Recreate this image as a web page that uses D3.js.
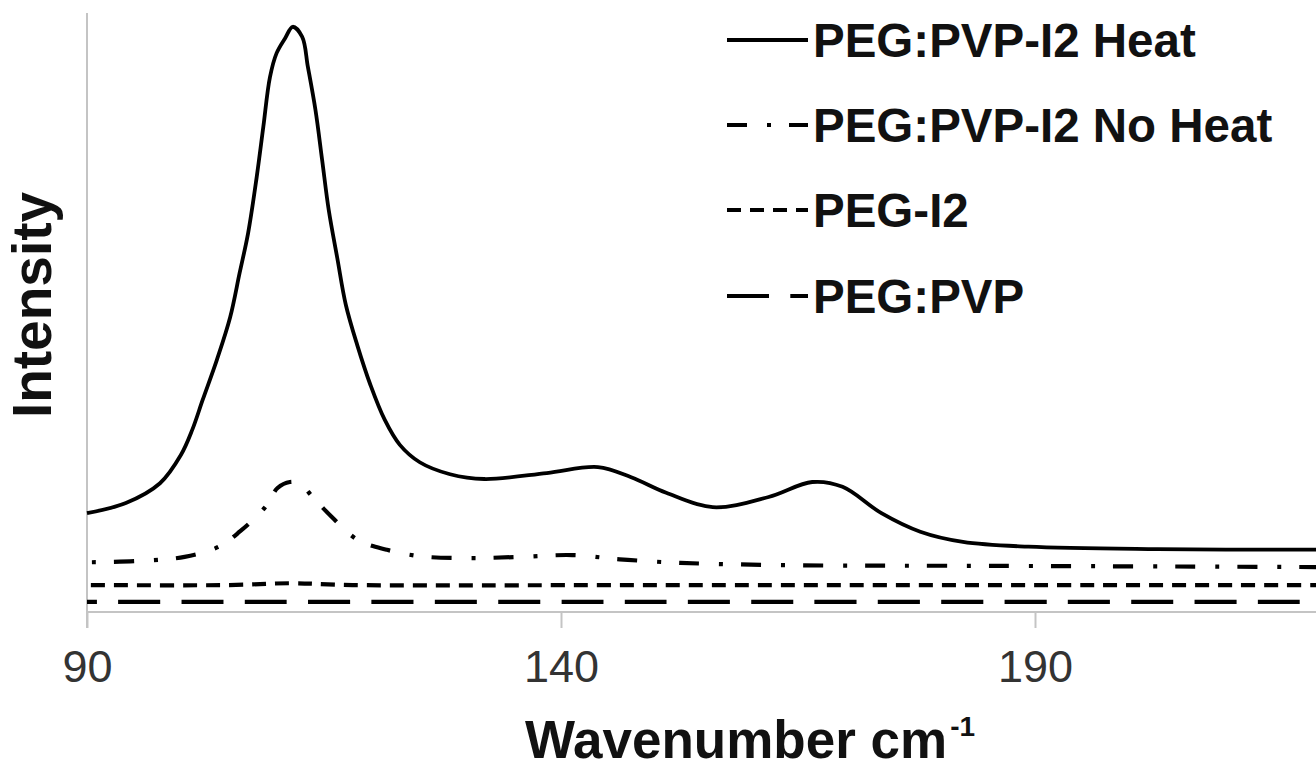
<!DOCTYPE html>
<html>
<head>
<meta charset="utf-8">
<script src="https://cdn.jsdelivr.net/npm/d3@7"></script>
<style>
  html, body { margin: 0; padding: 0; background: #fff; }
  svg { display: block; font-family: "Liberation Sans", Arial, Helvetica, sans-serif; }
</style>
</head>
<body>
<svg id="chart" width="1316" height="771"></svg>
<script>
// ---------- Data ----------
const heatX = [90, 94.1, 97.7, 99.9, 101.1, 102.2, 103.7, 105.1, 106.1, 107.0, 107.9, 108.6, 109.3, 110.0, 110.9, 111.7, 112.7, 113.3, 114.1, 114.8, 115.5, 116.4, 117.3, 118.5, 119.9, 121.4, 123.0, 125.1, 128.3, 131.9, 138.5, 143.9, 147.4, 151.1, 156.0, 161.9, 166.5, 169.7, 173.8, 177.9, 182.4, 189.3, 202.9, 220];
const heatY = [16.5, 18.2, 21.5, 26.2, 30.4, 35.4, 42.1, 49.2, 56.6, 63.3, 72.6, 81.0, 89.3, 93.3, 95.8, 97.7, 96.0, 91.0, 83.8, 75.5, 67.1, 59.1, 51.3, 44.6, 37.9, 32.1, 27.9, 25.0, 23.0, 22.2, 23.2, 24.2, 22.5, 19.9, 17.5, 19.2, 21.7, 20.9, 16.5, 13.4, 11.7, 10.9, 10.5, 10.4];

const noHeatX = [90, 95.2, 100.3, 103.9, 106.1, 108.8, 110.1, 111.4, 112.5, 113.8, 115.8, 118.6, 121.6, 125.2, 130.4, 135.7, 141.2, 146.2, 152.6, 165.2, 186.3, 220];
const noHeatY = [8.3, 8.5, 9.2, 10.9, 13.4, 17.5, 20.7, 21.7, 21.4, 19.2, 15.9, 12.0, 10.4, 9.3, 9.0, 9.2, 9.5, 8.8, 8.2, 7.8, 7.7, 7.5];

const pegI2X = [90, 105, 111.5, 118, 150, 220];
const pegI2Y = [4.5, 4.5, 4.8, 4.5, 4.5, 4.5];

const pegPvpX = [90, 150, 220];
const pegPvpY = [1.7, 1.7, 1.7];

const seriesNames = ["PEG:PVP-I2 Heat", "PEG:PVP-I2 No Heat", "PEG-I2", "PEG:PVP"];
const xTicks = [90, 140, 190];
const xTitle = "Wavenumber cm";
const xTitleSup = "-1";
const yTitle = "Intensity";

// ---------- Styles ----------
const styles = [
  { width: 3.8, dash: null, offset: 0 },
  { width: 4.2, dash: "20,20,4,18", offset: 35 },
  { width: 4.2, dash: "14,9", offset: 19 },
  { width: 4.2, dash: "42,21.3", offset: 32 }
];

const svg = d3.select("#chart");
const x = d3.scaleLinear().domain([90, 220]).range([87, 87 + 130 * 9.48]);
const y = d3.scaleLinear().domain([0, 100]).range([612, 13]);

// axes
const axisColor = "#c4c4c4";
svg.append("line").attr("x1", x(90)).attr("x2", x(90)).attr("y1", 13).attr("y2", 628)
  .attr("stroke", axisColor).attr("stroke-width", 2);
const xAxis = d3.axisBottom(x).tickValues(xTicks).tickSize(16).tickPadding(22).tickFormat(d3.format("d"));
const gx = svg.append("g").attr("transform", `translate(0,${y(0)})`).call(xAxis);
gx.select(".domain").attr("stroke", axisColor).attr("stroke-width", 2).attr("d", `M${x(90)},0H1316`);
gx.selectAll(".tick line").attr("stroke", axisColor).attr("stroke-width", 2);
gx.selectAll(".tick text").attr("font-size", 45).attr("fill", "#333").attr("font-family", "Liberation Sans, Arial, sans-serif");

// lines
const series = [
  d3.zip(heatX, heatY),
  d3.zip(noHeatX, noHeatY),
  d3.zip(pegI2X, pegI2Y),
  d3.zip(pegPvpX, pegPvpY)
];
const line = d3.line().x(d => x(d[0])).y(d => y(d[1])).curve(d3.curveCatmullRom.alpha(0.5));
svg.append("defs").append("clipPath").attr("id", "clip")
  .append("rect").attr("x", 80).attr("y", 0).attr("width", 1236).attr("height", 640);
const plot = svg.append("g").attr("clip-path", "url(#clip)");
series.forEach((s, i) => {
  const p = plot.append("path").attr("d", line(s)).attr("fill", "none").attr("stroke", "#000")
    .attr("stroke-width", styles[i].width).attr("stroke-linejoin", "round");
  if (styles[i].dash) p.attr("stroke-dasharray", styles[i].dash).attr("stroke-dashoffset", styles[i].offset);
});

// legend
const legendY = [40, 125, 210, 296];
const lg = svg.append("g");
seriesNames.forEach((name, i) => {
  const ln = lg.append("line").attr("x1", 727).attr("x2", 808).attr("y1", legendY[i]).attr("y2", legendY[i])
    .attr("stroke", "#000").attr("stroke-width", styles[i].width);
  if (styles[i].dash) ln.attr("stroke-dasharray", styles[i].dash);
  lg.append("text").attr("x", 813).attr("y", legendY[i] + 17).attr("font-size", 47.5).attr("font-weight", "bold")
    .attr("fill", "#111").text(name);
});

// titles
const xt = svg.append("text").attr("x", 750).attr("y", 758).attr("text-anchor", "middle")
  .attr("font-size", 53).attr("font-weight", "bold").attr("fill", "#111");
xt.append("tspan").text(xTitle);
xt.append("tspan").attr("font-size", 28).attr("dx", 3).attr("dy", -22).text(xTitleSup);

svg.append("text").attr("transform", "translate(51,305) rotate(-90)").attr("text-anchor", "middle")
  .attr("font-size", 55).attr("font-weight", "bold").attr("fill", "#111").text(yTitle);
</script>
</body>
</html>
